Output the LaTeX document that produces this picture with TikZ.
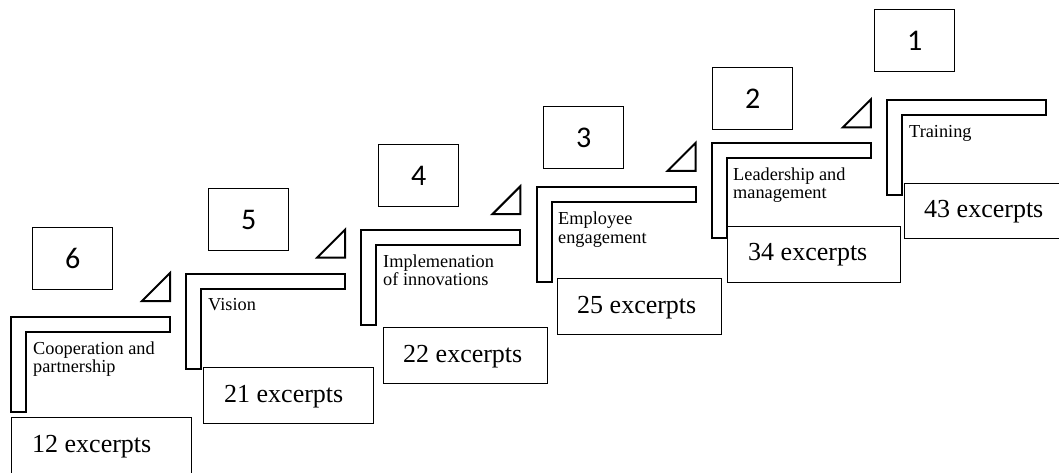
\documentclass[tikz,border=0pt]{standalone}
\usepackage{fontspec}
\setmainfont{Liberation Serif}
\newfontfamily\digitfont{Carlito}
\begin{document}
\begin{tikzpicture}[x=1pt,y=-1pt,
  stair/.style={draw=black, line width=2pt, line join=miter},
  wedge/.style={draw=black, line width=2pt, line join=miter},
  rankbox/.style={draw=black, line width=1.3pt, anchor=north west, inner sep=0pt,
    minimum width=80pt, minimum height=62pt, font=\digitfont\fontsize{30}{32}\selectfont},
  countbox/.style={draw=black, line width=1.3pt, fill=white, anchor=north west,
    inner sep=0pt, minimum height=56pt},
  counttext/.style={anchor=base west, inner sep=0pt, font=\fontsize{26}{28}\selectfont},
  steptext/.style={anchor=base west, inner sep=0pt, align=left,
    font=\fontsize{18.3}{18.5}\selectfont}]
\useasboundingbox (0,0) rectangle (1059,472);
\clip (0,0) rectangle (1059,472);

% one stair: outer left x, top y
\foreach \k/\X/\T in {6/11/317, 5/186.2/273.6, 4/361.4/230.2, 3/536.6/186.8, 2/711.8/143.4, 1/887/100}{
  \draw[stair] (\X,\T) -- ++(159,0) -- ++(0,15) -- ++(-144,0) -- ++(0,80) -- ++(-15,0) -- cycle;
}

% wedges at the right end of each stair tread
\foreach \R/\T in {170/317, 345.2/273.6, 520.4/230.2, 695.6/186.8, 870.8/143.4}{
  \draw[wedge] (\R-28,\T-16) -- (\R,\T-16) -- (\R,\T-44) -- cycle;
}

% stair captions (base anchor sits on the last line)
\node[steptext] (t6) at (33,372.5) {Cooperation and\\partnership};
\node[steptext] (t5) at (208,310) {Vision};
\node[steptext] (t4) at (383,285.5) {Implemenation\\of innovations};
\node[steptext] (t3) at (558,243) {Employee\\engagement};
\node[steptext] (t2) at (733,198.5) {Leadership and\\management};
\node[steptext] (t1) at (909,137) {Training};

% rank boxes
\node[rankbox] (r6) at (32,227) {6};
\node[rankbox] (r5) at (208,188) {5};
\node[rankbox] (r4) at (378,144) {4};
\node[rankbox] (r3) at (543,106) {3};
\node[rankbox] (r2) at (712,67) {2};
\node[rankbox] (r1) at (874,9) {1};

% excerpt counts
\node[countbox, minimum width=180pt, minimum height=70pt] (c6) at (11,417) {};
\node[countbox, minimum width=170pt] (c5) at (203,367) {};
\node[countbox, minimum width=164pt] (c4) at (383,327) {};
\node[countbox, minimum width=164pt] (c3) at (557,278) {};
\node[countbox, minimum width=173pt] (c2) at (727,226) {};
\node[countbox, minimum width=170pt, minimum height=55pt] (c1) at (904,183) {};
\node[counttext] at ([shift={(21,35)}]c6.north west) {12 excerpts};
\node[counttext] at ([shift={(21,35)}]c5.north west) {21 excerpts};
\node[counttext] at ([shift={(20,35)}]c4.north west) {22 excerpts};
\node[counttext] at ([shift={(20,35)}]c3.north west) {25 excerpts};
\node[counttext] at ([shift={(21,34)}]c2.north west) {34 excerpts};
\node[counttext] at ([shift={(20,34)}]c1.north west) {43 excerpts};
\end{tikzpicture}
\end{document}
